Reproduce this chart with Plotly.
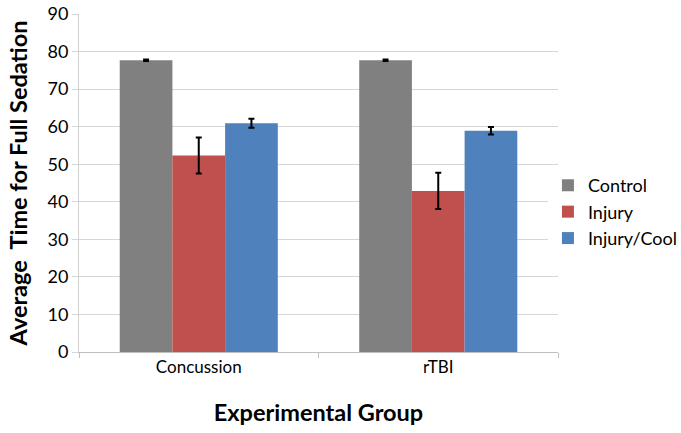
import plotly.graph_objects as go

categories = ["Concussion", "rTBI"]
series_names = ["Control", "Injury", "Injury/Cool"]
control = [77.7, 77.7]
control_err = [0.2, 0.2]
injury = [52.3, 42.9]
injury_err = [4.8, 4.8]
cool = [60.9, 58.9]
cool_err = [1.2, 1.0]
colors = ["#808080", "#c0504d", "#4f81bd"]

fig = go.Figure()
for name, vals, errs, col in zip(series_names, [control, injury, cool],
                                 [control_err, injury_err, cool_err], colors):
    fig.add_trace(go.Bar(
        x=categories, y=vals, name=name, legendgroup=name,
        marker=dict(color=col, line=dict(width=0)),
        error_y=dict(type="data", array=errs, color="black", thickness=2, width=3),
    ))

fig.update_layout(
    width=681, height=433,
    paper_bgcolor="white", plot_bgcolor="white",
    margin=dict(l=79, r=123, t=14, b=81, autoexpand=False),
    barmode="group", bargap=0.34, bargroupgap=0,
    font=dict(family="Lato, Open Sans, sans-serif", color="#000000", size=14),
    showlegend=True,
    legend=dict(x=0.979, xanchor="left", y=0.414, yanchor="middle",
                font=dict(size=18), tracegroupgap=0, traceorder="grouped"),
    xaxis=dict(
        automargin=False,
        showline=True, linecolor="#bfbfbf", linewidth=1,
        ticks="outside", tickson="boundaries", ticklen=5, tickcolor="#bfbfbf",
        tickfont=dict(size=17),
        title=dict(text="<b>Experimental Group</b>", font=dict(size=23.5), standoff=28),
    ),
    yaxis=dict(
        automargin=False,
        range=[0, 90], dtick=10,
        showline=True, linecolor="#d0d0d0", linewidth=1,
        showgrid=True, gridcolor="#d6d6d6", gridwidth=1,
        ticks="outside", ticklen=6, tickcolor="#d6d6d6",
        tickfont=dict(size=18),
        zeroline=False,
        title=dict(text="<b>Average  Time for Full Sedation</b>", font=dict(size=23.5), standoff=13),
    ),
)

fig.write_html("out.html", config={"displayModeBar": False},
               post_script="document.body.style.margin='0';")
